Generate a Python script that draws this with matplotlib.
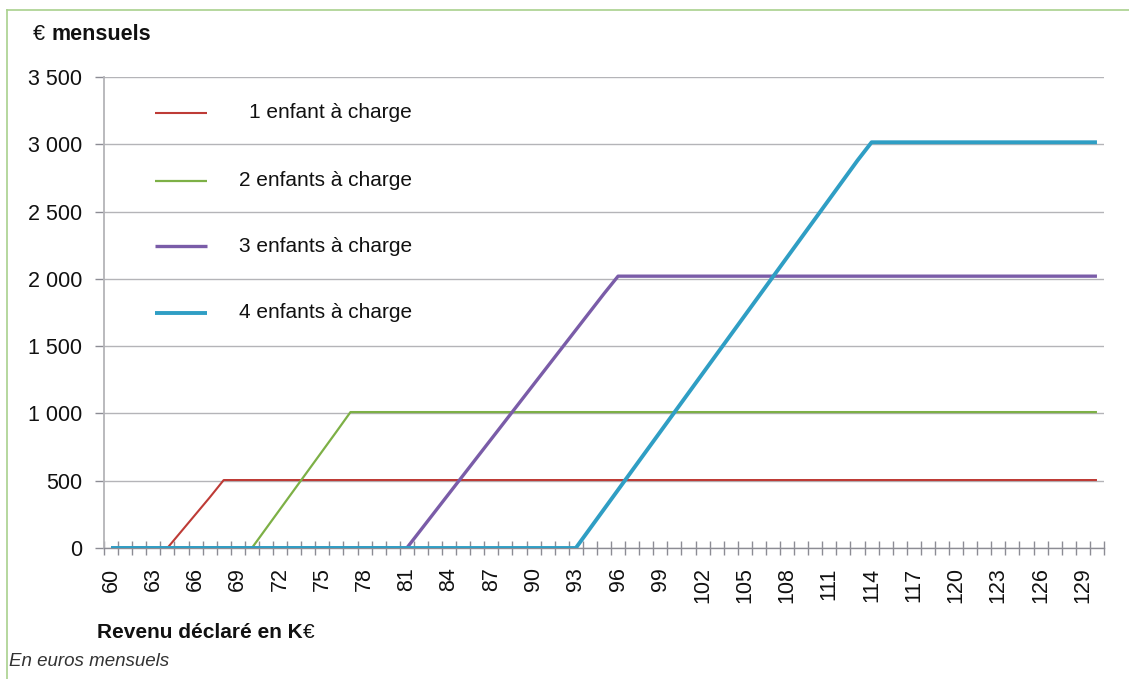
import matplotlib
matplotlib.use("Agg")
import matplotlib.pyplot as plt
from matplotlib.lines import Line2D

W, H = 1129, 679

# Revenu déclaré (K€), one category per K€
revenus = list(range(60, 131))

# Montants mensuels (€) par nombre d'enfants à charge
un_enfant = [
    0, 0, 0, 0, 0, 125, 250, 375, 505, 505,
    505, 505, 505, 505, 505, 505, 505, 505, 505, 505,
    505, 505, 505, 505, 505, 505, 505, 505, 505, 505,
    505, 505, 505, 505, 505, 505, 505, 505, 505, 505,
    505, 505, 505, 505, 505, 505, 505, 505, 505, 505,
    505, 505, 505, 505, 505, 505, 505, 505, 505, 505,
    505, 505, 505, 505, 505, 505, 505, 505, 505, 505,
    505,
]
deux_enfants = [
    0, 0, 0, 0, 0, 0, 0, 0, 0, 0,
    0, 144, 288, 432, 576, 720, 864, 1010, 1010, 1010,
    1010, 1010, 1010, 1010, 1010, 1010, 1010, 1010, 1010, 1010,
    1010, 1010, 1010, 1010, 1010, 1010, 1010, 1010, 1010, 1010,
    1010, 1010, 1010, 1010, 1010, 1010, 1010, 1010, 1010, 1010,
    1010, 1010, 1010, 1010, 1010, 1010, 1010, 1010, 1010, 1010,
    1010, 1010, 1010, 1010, 1010, 1010, 1010, 1010, 1010, 1010,
    1010,
]
trois_enfants = [
    0, 0, 0, 0, 0, 0, 0, 0, 0, 0,
    0, 0, 0, 0, 0, 0, 0, 0, 0, 0,
    0, 0, 135, 270, 405, 540, 675, 810, 945, 1080,
    1215, 1350, 1485, 1620, 1755, 1890, 2020, 2020, 2020, 2020,
    2020, 2020, 2020, 2020, 2020, 2020, 2020, 2020, 2020, 2020,
    2020, 2020, 2020, 2020, 2020, 2020, 2020, 2020, 2020, 2020,
    2020, 2020, 2020, 2020, 2020, 2020, 2020, 2020, 2020, 2020,
    2020,
]
quatre_enfants = [
    0, 0, 0, 0, 0, 0, 0, 0, 0, 0,
    0, 0, 0, 0, 0, 0, 0, 0, 0, 0,
    0, 0, 0, 0, 0, 0, 0, 0, 0, 0,
    0, 0, 0, 0, 144, 288, 432, 576, 720, 864,
    1008, 1152, 1296, 1440, 1584, 1728, 1872, 2016, 2160, 2304,
    2448, 2592, 2736, 2880, 3015, 3015, 3015, 3015, 3015, 3015,
    3015, 3015, 3015, 3015, 3015, 3015, 3015, 3015, 3015, 3015,
    3015,
]

labels = ["1 enfant à charge", "2 enfants à charge",
          "3 enfants à charge", "4 enfants à charge"]
series = [un_enfant, deux_enfants, trois_enfants, quatre_enfants]
colors = ["#BE3B36", "#7DB046", "#7A5CA8", "#2F9EC4"]
widths = [1.5, 1.6, 2.4, 2.8]

y_ticks = [0, 500, 1000, 1500, 2000, 2500, 3000, 3500]
y_labels = ["0", "500", "1 000", "1 500", "2 000", "2 500", "3 000", "3 500"]

plt.rcParams["font.family"] = ["Liberation Sans", "DejaVu Sans"]
GRID = "#B4B4B8"
AXIS = "#8C8C94"
INK = "#111111"

fig = plt.figure(figsize=(W / 100, H / 100), dpi=100)
ax = fig.add_axes([104 / W, 1 - 548 / H, 1000 / W, 471 / H])

x = list(range(len(revenus)))
for vals, col, lw in zip(series, colors, widths):
    ax.plot(x, vals, color=col, lw=lw, solid_capstyle="butt", zorder=3)

ax.set_xlim(-0.5, len(revenus) - 0.5)
ax.set_ylim(0, 3500)

# y axis
ax.set_yticks(y_ticks)
ax.set_yticklabels(y_labels)
ax.yaxis.grid(True, color=GRID, lw=1.0)
ax.tick_params(axis="y", direction="out", length=6.5, width=1.0, color=AXIS,
               pad=9, labelsize=15.5, labelcolor=INK)

# x axis: labels every 3 categories, small ticks between categories
ax.set_xticks(x[::3])
ax.set_xticklabels([str(r) for r in revenus[::3]], rotation=90)
ax.set_xticks([i - 0.5 for i in range(len(revenus) + 1)], minor=True)
ax.tick_params(axis="x", which="major", length=0, pad=14, labelsize=15.5,
               labelcolor=INK)
ax.tick_params(axis="x", which="minor", direction="inout", length=10,
               width=1.0, color=AXIS)

for side in ["top", "right"]:
    ax.spines[side].set_visible(False)
ax.spines["left"].set_color(GRID)
ax.spines["left"].set_linewidth(1.3)
ax.spines["bottom"].set_color(AXIS)
ax.spines["bottom"].set_linewidth(1.0)
ax.set_axisbelow(True)

# legend drawn as a column of short lines with right-aligned labels
leg_y = [113, 181, 246, 313]
for lab, col, lw, yy in zip(labels, colors, widths, leg_y):
    fig.add_artist(Line2D([155 / W, 207 / W], [1 - yy / H, 1 - yy / H],
                          color=col, lw=lw, solid_capstyle="butt"))
    fig.text(412 / W, 1 - yy / H, lab, ha="right", va="center",
             fontsize=15, color=INK)

renderer = fig.canvas.get_renderer()


def text_after(first, rest, weight_first, weight_rest, x0, y0, size):
    """Two adjoining texts with different weights on one line."""
    t = fig.text(x0 / W, 1 - y0 / H, first, ha="left", va="center",
                 fontsize=size, fontweight=weight_first, color=INK)
    x1 = t.get_window_extent(renderer).x1
    fig.text(x1 / W, 1 - y0 / H, rest, ha="left", va="center",
             fontsize=size, fontweight=weight_rest, color=INK)


text_after("€ ", "mensuels", "normal", "bold", 33, 35, 15.5)
text_after("Revenu déclaré en K", "€", "bold", "normal", 97, 633, 15)
fig.text(9 / W, 1 - 662 / H, "En euros mensuels", ha="left", va="center",
         fontsize=13.5, style="italic", color="#333333")

# frame lines
frame = "#A9D18E"
fig.add_artist(Line2D([7 / W, 7 / W], [0, 1 - 10 / H], color=frame, lw=1.2))
fig.add_artist(Line2D([7 / W, 1], [1 - 10 / H, 1 - 10 / H], color=frame, lw=1.2))

fig.savefig("out.png", dpi=100)
